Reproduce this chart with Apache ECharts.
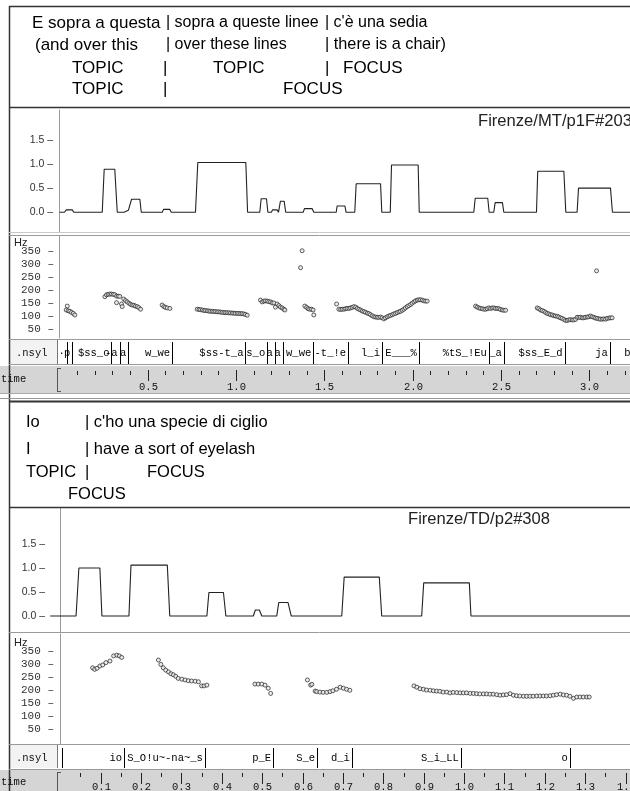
<!DOCTYPE html>
<html><head><meta charset="utf-8">
<script src="https://cdn.jsdelivr.net/npm/echarts@6/dist/echarts.min.js"></script>
<style>html,body{margin:0;padding:0;background:#fff}#c{width:630px;height:791px}</style>
</head><body><div id="c"></div>
<script>
// ---------------- DATA ----------------
var text1Lines = [
  ["E sopra a questa", "| sopra a queste linee", "| c'è una sedia"],
  ["(and over this", "| over these lines", "| there is a chair)"],
  ["TOPIC", "|", "TOPIC", "|", "FOCUS"],
  ["TOPIC", "|", "FOCUS"]
];
var text2Lines = [
  ["Io", "| c'ho una specie di ciglio"],
  ["I", "| have a sort of eyelash"],
  ["TOPIC", "|", "FOCUS"],
  ["FOCUS"]
];
var title1 = "Firenze/MT/p1F#203";
var title2 = "Firenze/TD/p2#308";

// Energy curves: [time (s), energy]
var energy1 = [
  [0,0],
  [0.028,0],[0.038,0.05],[0.072,0.05],[0.081,0],
  [0.242,0],[0.253,0.89],[0.313,0.89],[0.327,0],
  [0.366,0],[0.372,0.04],[0.390,0.04],[0.396,0],
  [0.398,0],[0.408,0.27],[0.455,0.27],[0.463,0],
  [0.582,0],[0.589,0.06],[0.625,0.06],[0.633,0],
  [0.770,0],[0.783,1.03],[1.055,1.03],[1.065,0],
  [1.134,0],[1.142,0.28],[1.172,0.28],[1.180,0],
  [1.200,0],[1.206,0.05],[1.233,0.05],[1.240,0],
  [1.242,0],[1.251,0.23],[1.272,0.23],[1.281,0],
  [1.380,0],[1.387,0.075],[1.431,0.075],[1.440,0],
  [1.567,0],[1.572,0.13],[1.616,0.13],[1.623,0],
  [1.672,0],[1.680,0.59],[1.818,0.59],[1.825,0],
  [1.873,0],[1.880,0.98],[2.031,0.98],[2.037,0],
  [2.346,0],[2.354,0.29],[2.425,0.29],[2.433,0],
  [2.459,0],[2.467,0.20],[2.508,0.20],[2.516,0],
  [2.701,0],[2.708,0.85],[2.856,0.85],[2.867,0],
  [2.931,0],[2.939,0.50],[3.120,0.50],[3.131,0],
  [3.25,0]
];
var energy2 = [
  [-0.025,0],
  [0.039,0],[0.046,1.0],[0.098,1.0],[0.103,0],
  [0.170,0],[0.175,1.06],[0.265,1.06],[0.271,0],
  [0.363,0],[0.368,0.49],[0.404,0.49],[0.410,0],
  [0.478,0],[0.483,0.125],[0.493,0.125],[0.499,0],
  [0.536,0],[0.541,0.28],[0.564,0.28],[0.572,0],
  [0.697,0],[0.703,0.81],[0.790,0.81],[0.796,0],
  [0.895,0],[0.900,0.69],[1.013,0.69],[1.017,0],
  [1.42,0]
];

// F0 points: [time (s), Hz]
var f0First = [
  [0.044,138],[0.038,123],[0.049,120],[0.058,118],[0.068,114],[0.078,110],[0.087,104],
  [0.257,174],[0.266,181],[0.276,183],[0.285,184],[0.294,184],[0.304,183],[0.313,182],[0.323,176],[0.332,176],[0.341,175],
  [0.323,151],[0.351,146],[0.355,136],
  [0.364,165],[0.374,159],[0.383,154],[0.393,149],[0.402,145],[0.411,142],[0.421,141],[0.430,138],[0.440,136],[0.449,132],[0.459,126],
  [0.581,142],[0.591,136],[0.600,133],[0.610,131],[0.625,129],
  [0.780,126],[0.790,125],[0.799,124],[0.809,123],[0.818,121],[0.827,121],[0.837,120],[0.846,119],[0.855,118],[0.865,118],
  [0.874,117],[0.883,117],[0.893,116],[0.902,116],[0.912,115],[0.921,114],[0.931,113],[0.940,113],[0.949,113],[0.959,112],
  [0.968,112],[0.978,111],[0.987,111],[0.996,110],[1.006,110],[1.015,110],[1.025,109],[1.034,109],[1.044,108],[1.053,106],[1.063,103],
  [1.138,161],[1.148,154],[1.157,157],[1.166,158],[1.176,157],[1.185,155],[1.195,154],[1.204,150],[1.214,150],
  [1.223,134],[1.232,146],[1.242,140],[1.251,134],[1.261,131],[1.270,126],[1.276,123],
  [1.374,350],[1.365,285],
  [1.389,138],[1.399,133],[1.408,128],[1.417,126],[1.427,126],[1.436,123],[1.440,104],
  [1.569,146],
  [1.582,126],[1.592,125],[1.601,126],[1.611,126],[1.620,128],[1.629,129],[1.639,129],[1.648,131],[1.658,133],[1.667,136],
  [1.677,134],[1.686,129],[1.695,126],[1.705,123],[1.714,119],[1.724,117],[1.733,114],[1.743,111],[1.752,109],[1.761,105],
  [1.771,101],[1.780,97],[1.790,96],[1.799,95],[1.808,95],[1.818,96],[1.827,93],[1.837,89],[1.846,93],[1.856,97],
  [1.865,100],[1.874,102],[1.884,105],[1.893,108],[1.903,110],[1.912,113],[1.922,116],[1.931,118],[1.941,122],[1.950,126],
  [1.959,131],[1.969,136],[1.978,140],[1.988,144],[1.997,149],[2.007,154],[2.016,158],[2.026,161],[2.035,162],[2.044,162],
  [2.054,161],[2.063,158],[2.073,157],[2.082,157],
  [2.356,138],[2.365,134],[2.375,131],[2.384,129],[2.394,128],[2.403,126],[2.413,126],[2.422,128],[2.431,131],[2.441,129],
  [2.450,131],[2.460,131],[2.469,129],[2.479,129],[2.488,128],[2.497,125],[2.507,123],[2.516,122],[2.526,122],
  [2.705,131],[2.714,128],[2.724,123],[2.733,121],[2.743,118],[2.752,114],[2.761,110],[2.771,108],[2.780,105],[2.790,104],
  [2.799,101],[2.808,100],[2.818,99],[2.827,96],[2.837,93],[2.846,91],[2.856,87],[2.865,83],[2.875,83],[2.884,85],
  [2.893,86],[2.903,85],[2.912,85],[2.922,87],[2.931,95],[2.941,95],[2.950,95],[2.960,93],[2.969,93],[2.978,95],
  [2.988,96],[2.997,97],[3.007,100],[3.016,97],[3.026,95],[3.035,92],[3.044,91],[3.054,89],[3.063,88],[3.073,88],
  [3.082,89],[3.092,88],[3.101,91],[3.111,92],[3.120,93],[3.129,93],
  [3.041,273]
];
var f0Second = [
  [0.080,287],[0.085,281],[0.091,285],[0.098,294],[0.105,298],[0.113,307],[0.123,313],[0.132,333],[0.140,336],[0.146,333],[0.152,327],
  [0.243,317],[0.249,300],[0.255,287],[0.261,278],[0.268,271],[0.274,264],[0.280,260],[0.286,254],[0.292,246],[0.301,243],
  [0.309,240],[0.317,237],[0.325,236],[0.334,235],[0.342,233],[0.350,217],[0.356,217],[0.363,220],
  [0.482,224],[0.490,224],[0.499,224],[0.507,220],[0.515,208],[0.521,188],
  [0.612,240],[0.620,220],[0.623,223],[0.631,197],[0.635,195],[0.643,193],[0.651,192],[0.660,192],[0.668,195],[0.675,198],
  [0.684,204],[0.693,212],[0.701,208],[0.709,204],[0.717,200],
  [0.876,217],[0.883,212],[0.891,206],[0.899,204],[0.907,201],[0.916,200],[0.924,198],[0.932,197],[0.940,196],[0.948,193],
  [0.957,193],[0.965,190],[0.973,192],[0.982,191],[0.990,190],[0.998,190],[1.006,190],[1.015,188],[1.023,188],[1.031,187],
  [1.039,186],[1.048,186],[1.056,186],[1.064,185],[1.072,185],[1.081,183],[1.089,181],[1.097,182],[1.105,183],[1.114,187],
  [1.122,181],[1.130,179],[1.138,178],[1.147,177],[1.155,177],[1.163,177],[1.171,177],[1.180,178],[1.188,178],[1.196,178],
  [1.204,178],[1.213,179],[1.221,181],[1.229,183],[1.238,185],[1.246,182],[1.254,181],[1.262,177],[1.271,169],[1.279,174],
  [1.287,174],[1.295,174],[1.304,174],[1.310,174]
];

// Syllable tiers: labels and end times (s)
var syl1Labels = ["·","p","$ss_o","-a","a","w_we","$ss-t_a","s_o","a","a","w_we","-t_!e","l_i","E___%","%tS_!Eu","_a","$ss_E_d","ja","b"];
var syl1Ends   = [0.041,0.073,0.294,0.340,0.389,0.638,1.053,1.176,1.219,1.264,1.437,1.634,1.826,2.035,2.431,2.516,2.860,3.116,3.245];
var syl2Labels = ["","io","S_O!u~-na~_s","p_E","S_e","d_i","S_i_LL","o"];
var syl2Ends   = [0.003,0.158,0.358,0.527,0.636,0.722,0.992,1.262];

// Tick values
var energyTicks = [0, 0.5, 1.0, 1.5];
var f0Ticks = [50, 100, 150, 200, 250, 300, 350];
var time1Major = [0.5, 1.0, 1.5, 2.0, 2.5, 3.0];
var time1Minor = [0.1,0.2,0.3,0.4,0.6,0.7,0.8,0.9,1.1,1.2,1.3,1.4,1.6,1.7,1.8,1.9,2.1,2.2,2.3,2.4,2.6,2.7,2.8,2.9,3.1,3.2];
var time2Major = [0.1,0.2,0.3,0.4,0.5,0.6,0.7,0.8,0.9,1.0,1.1,1.2,1.3,1.4];
var time2Minor = [0.05,0.15,0.25,0.35,0.45,0.55,0.65,0.75,0.85,0.95,1.05,1.15,1.25,1.35];

// ---------------- LAYOUT / STYLE ----------------
var SANS = '"Liberation Sans", Arial, sans-serif';
var MONO = '"Liberation Mono", "DejaVu Sans Mono", monospace';
var T1 = {min: -0.0142, max: 3.2305};
var T2 = {min: -0.0082, max: 1.4109};
var T2e = {min: -0.0305, max: 1.4109};

var chart = echarts.init(document.getElementById('c'), null, {renderer: 'canvas'});

function hidX(grid, r){ return {type:'value', gridIndex:grid, min:r.min, max:r.max, show:false}; }
function hidY(grid){ return {type:'value', gridIndex:grid, min:0, max:1, show:false}; }
function energyY(grid, min, max, margin){
  return {type:'value', gridIndex:grid, min:min, max:max,
    axisLine:{show:true, lineStyle:{color:'#9a9a9a', width:1}},
    axisTick:{show:false}, splitLine:{show:false},
    axisLabel:{customValues:energyTicks, margin:margin, color:'#333', fontFamily:SANS, fontSize:10.5,
      formatter:function(v){return v.toFixed(1)+' –';}}};
}
function f0Y(grid, min, max){
  return {type:'value', gridIndex:grid, min:min, max:max,
    axisLine:{show:true, lineStyle:{color:'#9a9a9a', width:1}},
    axisTick:{show:false}, splitLine:{show:false},
    axisLabel:{customValues:f0Ticks, margin:3, color:'#333', fontFamily:MONO, fontSize:11,
      formatter:function(v){return v+' –';}}};
}
function sylRender(labels){
  return function(params, api){
    var t = api.value(0);
    var pb = api.coord([t, 0]), pt = api.coord([t, 1]);
    return {type:'group', children:[
      {type:'line', shape:{x1:Math.round(pb[0])+0.5, y1:pt[1]+2, x2:Math.round(pb[0])+0.5, y2:pb[1]}, style:{stroke:'#000', lineWidth:1}},
      {type:'text', style:{text:labels[params.dataIndex], x:pb[0]-2, y:(pb[1]+pt[1])/2+1, align:'right', verticalAlign:'middle',
        font:'10.5px '+MONO, fill:'#000'}}
    ]};
  };
}
// time-ruler ticks drawn on the time grid's scale
function tickRender(len, withLabel, off, gap){
  return function(params, api){
    var t = api.value(0);
    var pt = api.coord([t, 1]);
    var x = Math.round(pt[0]) + 0.5;
    var ch = [{type:'line', shape:{x1:x, y1:pt[1]+off, x2:x, y2:pt[1]+off+len}, style:{stroke:'#222', lineWidth:1}}];
    if (withLabel) ch.push({type:'text', style:{text:t.toFixed(1), x:x, y:pt[1]+off+len+gap, align:'center', verticalAlign:'middle',
      font:'10.5px '+MONO, fill:'#111'}});
    return {type:'group', children:ch};
  };
}

// graphic helpers
var G = [];
function hl(y, x1, x2, c, w){ G.push({type:'line', z:50, shape:{x1:x1,y1:y,x2:x2,y2:y}, style:{stroke:c, lineWidth:w||1}}); }
function vl(x, y1, y2, c, w){ G.push({type:'line', z:50, shape:{x1:x,y1:y1,x2:x,y2:y2}, style:{stroke:c, lineWidth:w||1}}); }
function rc(x, y, w, h, f){ G.push({type:'rect', z:-5, shape:{x:x,y:y,width:w,height:h}, style:{fill:f}}); }
function tx(s, x, y, font, fill, align){ G.push({type:'text', z:60, style:{text:s, x:x, y:y, font:font, fill:fill||'#000', align:align||'left', verticalAlign:'middle'}}); }

// backgrounds
rc(0, 366, 630, 27, '#d5d5d5');
rc(0, 770, 630, 21, '#d5d5d5');
rc(10, 340, 47, 24, '#f3f3f3');
rc(10, 745, 47, 23, '#f3f3f3');

// frame lines
vl(9.5, 6, 791, '#333', 1.5);
hl(6.5, 9, 630, '#333', 1.5);
hl(107.5, 9, 630, '#333', 1.5);
hl(232.5, 9, 630, '#c8c8c8', 1);
hl(235.5, 9, 630, '#9a9a9a', 1);
hl(339.5, 9, 630, '#9a9a9a', 1);
hl(364.5, 9, 630, '#9a9a9a', 1);
hl(393.5, 0, 630, '#aaa', 1);
hl(398.5, 0, 630, '#999', 1);
hl(401.5, 9, 630, '#333', 2);
hl(507.5, 9, 630, '#333', 1.5);
hl(632.5, 9, 630, '#9a9a9a', 1);
hl(744.5, 9, 630, '#9a9a9a', 1);
hl(769.5, 9, 630, '#9a9a9a', 1);
vl(57.5, 340, 364, '#777', 1);
vl(57.5, 368, 392, '#555', 1);
hl(368.5, 57, 61, '#555', 1);
hl(391.5, 57, 61, '#555', 1);
vl(57.5, 745, 768, '#777', 1);
vl(57.5, 772, 791, '#555', 1);
hl(772.5, 57, 61, '#555', 1);

// text blocks
var t1x = [[32,166,325],[35,166,325],[72,163,213,325,343],[72,163,283]];
var t1s = [[17,16,16],[17,16,16.3],[17,17,17,17,17],[17,17,17]];
var t1y = [23, 45, 68, 89.5];
text1Lines.forEach(function(line, i){ line.forEach(function(s, j){ tx(s, t1x[i][j], t1y[i], t1s[i][j] + 'px ' + SANS); }); });
var t2x = [[26,85],[26,85],[26,85,147],[68]];
var t2y = [422, 449, 472, 494.5];
text2Lines.forEach(function(line, i){ line.forEach(function(s, j){ tx(s, t2x[i][j], t2y[i], '16.5px ' + SANS); }); });
tx(title1, 478, 121, '16.6px ' + SANS, '#222');
tx(title2, 408, 519, '16.6px ' + SANS, '#222');
tx('Hz', 14, 243, '11px ' + SANS, '#222');
tx('Hz', 14, 643, '11px ' + SANS, '#222');
tx('.nsyl', 16, 353, '10.5px ' + MONO, '#111');
tx('.nsyl', 16, 758, '10.5px ' + MONO, '#111');
tx('time', 1, 379, '10.5px ' + MONO, '#111');
tx('time', 1, 782, '10.5px ' + MONO, '#111');

var option = {
  animation:false,
  backgroundColor:'#fff',
  grid:[
    {left:57, right:0, top:110, height:122},   // 0 energy 1
    {left:57, right:0, top:236, height:102},   // 1 F0 1
    {left:57, right:0, top:340, height:24},    // 2 nsyl 1
    {left:57, right:0, top:366, height:27},    // 3 time 1
    {left:48, right:0, top:508, height:124},   // 4 energy 2
    {left:57, right:0, top:634, height:110},   // 5 F0 2
    {left:57, right:0, top:746, height:22},    // 6 nsyl 2
    {left:57, right:0, top:770, height:21}     // 7 time 2
  ],
  xAxis:[
    hidX(0, T1), hidX(1, T1), hidX(2, T1), hidX(3, T1),
    hidX(4, T2e), hidX(5, T2), hidX(6, T2), hidX(7, T2)
  ],
  yAxis:[
    energyY(0, -0.408, 2.118, 4),
    f0Y(1, 15.7, 406.5),
    hidY(2), hidY(3),
    energyY(4, -0.333, 2.25, 3),
    f0Y(5, -7.6, 417.6),
    hidY(6), hidY(7)
  ],
  graphic:{elements:G},
  series:[
    {type:'line', xAxisIndex:0, yAxisIndex:0, data:energy1, symbol:'none', lineStyle:{color:'#222', width:1.1}, clip:true},
    {type:'scatter', xAxisIndex:1, yAxisIndex:1, data:f0First, symbol:'circle', symbolSize:4,
      itemStyle:{color:'#e8e8e8', borderColor:'#222', borderWidth:0.9}},
    {type:'custom', xAxisIndex:2, yAxisIndex:2, renderItem:sylRender(syl1Labels),
      data:syl1Ends.map(function(t){return [t, 0];})},
    {type:'custom', xAxisIndex:3, yAxisIndex:3, renderItem:tickRender(11, true, 4, 6),
      data:time1Major.map(function(t){return [t, 1];})},
    {type:'custom', xAxisIndex:3, yAxisIndex:3, renderItem:tickRender(4, false, 5, 0),
      data:time1Minor.map(function(t){return [t, 1];})},
    {type:'line', xAxisIndex:4, yAxisIndex:4, data:energy2, symbol:'none', lineStyle:{color:'#222', width:1.1}, clip:true},
    {type:'scatter', xAxisIndex:5, yAxisIndex:5, data:f0Second, symbol:'circle', symbolSize:4,
      itemStyle:{color:'#e8e8e8', borderColor:'#222', borderWidth:0.9}},
    {type:'custom', xAxisIndex:6, yAxisIndex:6, renderItem:sylRender(syl2Labels),
      data:syl2Ends.map(function(t){return [t, 0];})},
    {type:'custom', xAxisIndex:7, yAxisIndex:7, renderItem:tickRender(11, true, 3, 3),
      data:time2Major.map(function(t){return [t, 1];})},
    {type:'custom', xAxisIndex:7, yAxisIndex:7, renderItem:tickRender(4, false, 3, 0),
      data:time2Minor.map(function(t){return [t, 1];})}
  ]
};
chart.setOption(option);
</script></body></html>
